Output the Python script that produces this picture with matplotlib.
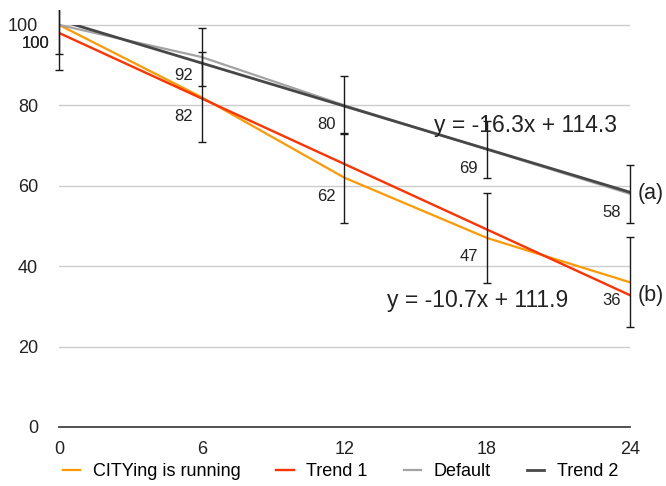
import numpy as np
import matplotlib
matplotlib.use("Agg")
import matplotlib.pyplot as plt
from matplotlib.patches import Rectangle

plt.rcParams['font.family'] = ['Liberation Sans', 'DejaVu Sans']

# data
hours = [0, 6, 12, 18, 24]
cityng = [100, 82, 62, 47, 36]
default = [100, 92, 80, 69, 58]
err_city = 11.2
err_default = 7.2
# trend lines (x = point index 1..5)
trend1 = (-16.3, 114.3)
trend2 = (-10.7, 111.9)

c_orange = '#FF9900'
c_red = '#FF3300'
c_gray = '#A3A3A3'
c_dark = '#474747'

fig = plt.figure(figsize=(6.66, 4.86), dpi=100)
ax = fig.add_axes([0.0886, 0.1214, 0.857, 0.858])

idx = np.arange(1, len(hours) + 1)
t1 = trend1[0] * idx + trend1[1]
t2 = trend2[0] * idx + trend2[1]

ax.plot(hours, cityng, color=c_orange, lw=1.6, label='CITYing is running', zorder=3)
l1, = ax.plot(hours, t1, color=c_red, lw=1.7, label='Trend 1', zorder=4)
ax.plot(hours, default, color=c_gray, lw=1.6, label='Default', zorder=3)
l2, = ax.plot(hours, t2, color=c_dark, lw=2.0, label='Trend 2', zorder=4)
clip = Rectangle((0, 0), 24, 100, transform=ax.transData)
l1.set_clip_path(clip)
l2.set_clip_path(clip)

# error bars: allowed past the left/right edges, cut at the top of the plot
ebox = Rectangle((-2, -5), 28, 108.7, transform=ax.transData)
for vals, err in [(cityng, err_city), (default, err_default)]:
    eb = ax.errorbar(hours, vals, yerr=err, fmt='none', ecolor='#1a1a1a',
                     elinewidth=1.0, capsize=3, capthick=1.0, zorder=5)
    for art in eb.lines[1] + eb.lines[2]:
        art.set_clip_path(ebox)

for h, v in zip(hours, cityng):
    ax.annotate(str(v), (h, v), xytext=(-6.5, -13.5), textcoords='offset points',
                ha='right', va='center', fontsize=12, color='#222222', zorder=6)
for h, v in zip(hours, default):
    ax.annotate(str(v), (h, v), xytext=(-6.5, -13.5), textcoords='offset points',
                ha='right', va='center', fontsize=12, color='#222222', zorder=6)

ax.text(19.6, 75.1, f'y = {trend1[0]}x + {trend1[1]}', fontsize=16.5,
        ha='center', va='center', color='#222222', zorder=6)
ax.text(17.6, 31.5, f'y = {trend2[0]}x + {trend2[1]}', fontsize=16.5,
        ha='center', va='center', color='#222222', zorder=6)
ax.annotate('(a)', (24, default[-1]), xytext=(6, 0), textcoords='offset points',
            ha='left', va='center', fontsize=15.5, color='#222222', annotation_clip=False)
ax.annotate('(b)', (24, t1[-1]), xytext=(6, 0), textcoords='offset points',
            ha='left', va='center', fontsize=15.5, color='#222222', annotation_clip=False)

ax.set_xlim(0, 24)
ax.set_ylim(0, 103.7)
ax.set_xticks(hours)
ax.set_yticks([0, 20, 40, 60, 80, 100])
ax.tick_params(length=0, labelsize=13, colors='#222222')
ax.tick_params(axis='y', pad=15)
ax.tick_params(axis='x', pad=10)
for s in ['top', 'right', 'left']:
    ax.spines[s].set_visible(False)
ax.spines['bottom'].set_color('#444444')
ax.spines['bottom'].set_linewidth(1.3)
ax.spines['bottom'].set_zorder(7)
ax.grid(axis='y', color='#CCCCCC', lw=1.0)
ax.set_axisbelow(True)

fig.legend(loc='center', bbox_to_anchor=(0.511, 0.03), ncol=4, frameon=False,
           fontsize=13, handlelength=0.95, handletextpad=0.7, columnspacing=2.0)

fig.savefig('out.png', dpi=100)
